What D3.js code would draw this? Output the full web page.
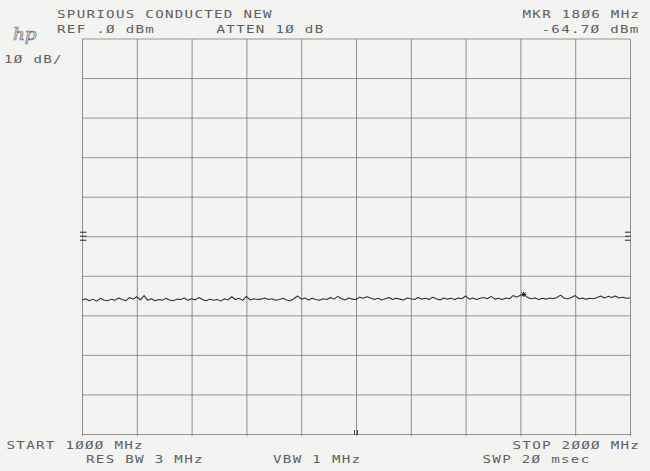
<!DOCTYPE html>
<html>
<head>
<meta charset="utf-8">
<script src="https://cdn.jsdelivr.net/npm/d3@7"></script>
<style>
  html, body { margin: 0; padding: 0; background: #f3f3f2; }
  svg { display: block; }
  text { font-family: "DejaVu Sans Mono", monospace; font-size: 10.5px; fill: #606060; letter-spacing: 0.95px; }
</style>
</head>
<body>
<svg id="chart" width="650" height="471"></svg>
<script>
// ---- data ----
const startMHz = 1000;
const stopMHz = 2000;
const refLevel = 0;      // dBm (top of screen)
const dbPerDiv = 10;
const numDivY = 10;
const freqTicks = [1000, 1100, 1200, 1300, 1400, 1500, 1600, 1700, 1800, 1900, 2000];
const levelTicks = [0, -10, -20, -30, -40, -50, -60, -70, -80, -90, -100];
const markerFreq = 1806;
const markerLevel = -64.70;
// trace amplitudes (dBm), equally spaced from start to stop
const trace = [
  -66.2,-65.8,-66.3,-65.9,-66.4,-65.7,-66.1,-66.3,-65.9,-66.2,
  -65.6,-66.0,-66.3,-65.5,-65.9,-65.3,-66.1,-65.0,-66.2,-65.8,
  -66.3,-66.0,-66.2,-65.7,-66.1,-66.3,-65.9,-66.0,-65.6,-66.2,
  -65.8,-66.1,-65.5,-66.0,-66.3,-65.9,-66.2,-66.0,-66.4,-65.8,
  -66.1,-65.3,-66.0,-65.7,-66.2,-65.2,-66.1,-65.8,-66.0,-65.9,
  -65.6,-66.0,-65.8,-66.2,-66.0,-65.7,-66.1,-66.3,-65.8,-65.1,
  -65.9,-65.6,-66.1,-65.7,-66.0,-66.2,-65.8,-66.0,-65.5,-65.9,
  -65.2,-65.8,-66.1,-65.6,-65.9,-66.0,-65.4,-65.7,-65.3,-65.6,
  -66.0,-65.7,-66.1,-65.8,-65.5,-66.0,-65.7,-65.9,-66.1,-65.6,
  -65.8,-66.0,-65.5,-65.9,-65.7,-66.0,-65.4,-65.8,-66.1,-65.6,
  -65.9,-65.7,-66.0,-65.6,-65.8,-65.1,-65.9,-65.6,-66.0,-65.7,
  -65.5,-65.8,-65.2,-65.9,-65.7,-66.0,-65.6,-65.8,-65.0,-65.4,
  -64.9,-64.70,-65.5,-65.8,-65.6,-66.0,-65.7,-65.9,-65.6,-65.8,
  -65.5,-64.9,-65.7,-65.8,-65.5,-65.0,-65.8,-65.6,-65.9,-65.7,
  -65.8,-65.5,-65.1,-65.6,-65.2,-65.5,-65.1,-65.6,-65.4,-65.7,-65.6
];
// annotation texts
const topLeft = ["SPURIOUS CONDUCTED NEW", "REF .Ø dBm"];
const attenText = "ATTEN 1Ø dB";
const scaleText = "1Ø dB/";
const mkrText = ["MKR 18Ø6 MHz", "-64.7Ø dBm"];
const startText = "START 1ØØØ MHz";
const stopText = "STOP 2ØØØ MHz";
const rbwText = "RES BW 3 MHz";
const vbwText = "VBW 1 MHz";
const swpText = "SWP 2Ø msec";

// ---- layout ----
const L = 82, R = 630, T = 38.5, B = 434;
const svg = d3.select("#chart");
const x = d3.scaleLinear().domain([startMHz, stopMHz]).range([L, R]);
const y = d3.scaleLinear().domain([refLevel - dbPerDiv * numDivY, refLevel]).range([B, T]);

const gridColor = "#7c7c7c";

// vertical graticule
const gx = svg.append("g").attr("transform", `translate(0,${B})`)
  .call(d3.axisBottom(x).tickValues(freqTicks).tickSize(-(B - T) - 1.5).tickSizeOuter(0).tickFormat(""));
gx.select(".domain").remove();
gx.selectAll(".tick line").attr("stroke", gridColor).attr("stroke-width", 0.85).attr("transform", "translate(0,2)");

// horizontal graticule
const gy = svg.append("g").attr("transform", `translate(${L},0)`)
  .call(d3.axisLeft(y).tickValues(levelTicks).tickSize(-(R - L)).tickSizeOuter(0).tickFormat(""));
gy.select(".domain").remove();
gy.selectAll(".tick line").attr("stroke", gridColor).attr("stroke-width", 0.8);

// reference-level marks ("≡") at -50 dB line, both edges
const refMarkY = y(-50);
[-4, 0, 4].forEach(d => {
  svg.append("line").attr("x1", L - 2).attr("x2", L + 4.5).attr("y1", refMarkY + d).attr("y2", refMarkY + d)
    .attr("stroke", "#444").attr("stroke-width", 1.2);
  svg.append("line").attr("x1", R - 5).attr("x2", R + 0.5).attr("y1", refMarkY + d).attr("y2", refMarkY + d)
    .attr("stroke", "#444").attr("stroke-width", 1.2);
});

// center frequency marker at bottom
const cx = x((startMHz + stopMHz) / 2);
[-1.5, 1.5].forEach(d => {
  svg.append("line").attr("x1", cx + d).attr("x2", cx + d).attr("y1", B - 4).attr("y2", B + 1)
    .attr("stroke", "#444").attr("stroke-width", 1);
});

// trace
const step = (stopMHz - startMHz) / (trace.length - 1);
const line = d3.line().x((d, i) => x(startMHz + i * step)).y(d => y(d));
svg.append("path").datum(trace).attr("d", line)
  .attr("fill", "none").attr("stroke", "#2e2e2e").attr("stroke-width", 1.05).attr("stroke-linejoin", "round");

// marker symbol
const mx = x(markerFreq), my = y(markerLevel);
const mk = svg.append("g").attr("stroke", "#222").attr("stroke-width", 1);
[[-2.5, 0, 2.5, 0], [0, -2.5, 0, 2.5], [-2, -2, 2, 2], [-2, 2, 2, -2]].forEach(s => {
  mk.append("line").attr("x1", mx + s[0]).attr("y1", my + s[1]).attr("x2", mx + s[2]).attr("y2", my + s[3]);
});

// texts (plotter font: wide glyphs)
const sx = 1.35;
const t = (str, px, py) => svg.append("text").attr("x", 0).attr("y", 0)
  .attr("transform", `translate(${px},${py}) scale(${sx},1)`).text(str);
t(topLeft[0], 57, 18);
t(topLeft[1], 57, 33);
t(attenText, 216.5, 33);
t(scaleText, 4, 63);
t(mkrText[0], 522.5, 18);
t(mkrText[1], 541.5, 33);
t(startText, 6.5, 448.5);
t(stopText, 512.5, 448.5);
t(rbwText, 86, 463);
t(vbwText, 273, 463);
t(swpText, 482.5, 463);

// hp logo
svg.append("text").attr("x", 0).attr("y", 0)
  .attr("transform", "translate(13,40) scale(1.15,1)")
  .style("font-family", "'DejaVu Serif', serif").style("font-style", "italic")
  .style("font-size", "16px").style("letter-spacing", "0px")
  .style("fill", "none").style("stroke", "#777").style("stroke-width", 0.7)
  .text("hp");
</script>
</body>
</html>
